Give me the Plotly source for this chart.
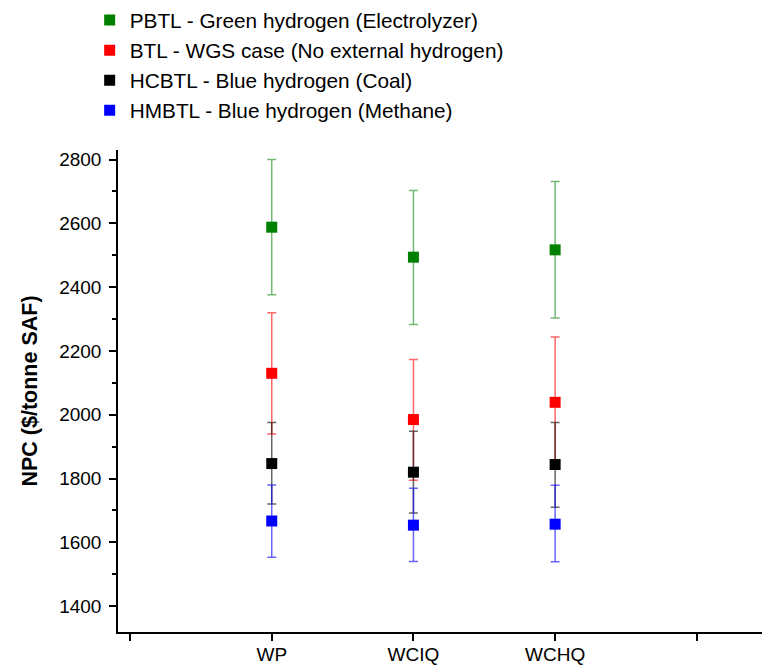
import plotly.graph_objects as go

categories = ["WP", "WCIQ", "WCHQ"]
x_pos = [1, 2, 3]
tick_positions = [0, 1, 2, 3, 4]
tick_labels = ["", "WP", "WCIQ", "WCHQ", ""]

series_names = [
    "PBTL - Green hydrogen (Electrolyzer)",
    "BTL - WGS case (No external hydrogen)",
    "HCBTL - Blue hydrogen (Coal)",
    "HMBTL - Blue hydrogen (Methane)",
]
pbtl = [2588, 2494, 2517]
pbtl_hi = [2800, 2703, 2731]
pbtl_lo = [2376, 2283, 2303]

btl = [2130, 1985, 2039]
btl_hi = [2320, 2173, 2244]
btl_lo = [1940, 1795, 1834]

hcbtl = [1847, 1820, 1844]
hcbtl_hi = [1976, 1948, 1976]
hcbtl_lo = [1720, 1692, 1710]

hmbtl = [1667, 1654, 1657]
hmbtl_hi = [1780, 1770, 1779]
hmbtl_lo = [1553, 1540, 1539]

colors = ["#008000", "#FF0000", "#000000", "#0000FF"]
err_colors = ["rgba(0,128,0,0.55)", "rgba(255,0,0,0.6)", "rgba(0,0,0,0.6)", "rgba(0,0,255,0.6)"]

fig = go.Figure()
for name, vals, hi, lo, c, ec in zip(
    series_names,
    [pbtl, btl, hcbtl, hmbtl],
    [pbtl_hi, btl_hi, hcbtl_hi, hmbtl_hi],
    [pbtl_lo, btl_lo, hcbtl_lo, hmbtl_lo],
    colors, err_colors,
):
    fig.add_trace(go.Scatter(
        x=x_pos, y=vals, mode="markers", name=name,
        marker=dict(symbol="square", size=11, color=c),
        error_y=dict(
            type="data", symmetric=False,
            array=[h - v for h, v in zip(hi, vals)],
            arrayminus=[v - l for v, l in zip(vals, lo)],
            color=ec, thickness=1.5, width=4.5,
        ),
    ))

fig.update_layout(
    width=762, height=668,
    margin=dict(l=118, r=0, t=148, b=36),
    plot_bgcolor="white", paper_bgcolor="white",
    font=dict(family="Liberation Sans, Arial, sans-serif", size=19, color="black"),
    showlegend=True,
    legend=dict(
        x=-0.044, y=1.311, xanchor="left", yanchor="top",
        font=dict(size=20.8, color="black"),
        bgcolor="rgba(0,0,0,0)", tracegroupgap=0,
    ),
    xaxis=dict(
        range=[-0.085, 4.46],
        tickmode="array", tickvals=tick_positions, ticktext=tick_labels,
        ticks="outside", ticklen=7, tickwidth=1.5, tickcolor="black",
        showline=True, linecolor="black", linewidth=1.5,
        showgrid=False, zeroline=False,
        tickfont=dict(size=19),
        ticklabelstandoff=-3,
    ),
    yaxis=dict(
        range=[1319, 2830],
        dtick=200, tick0=1400,
        ticks="outside", ticklen=7, tickwidth=1.5, tickcolor="black",
        minor=dict(dtick=100, ticks="outside", ticklen=4, tickwidth=1.5, tickcolor="black"),
        showline=True, linecolor="black", linewidth=1.5,
        showgrid=False, zeroline=False,
        tickfont=dict(size=19),
        ticklabelstandoff=4,
        title=dict(text="<b>NPC ($/tonne SAF)</b>", font=dict(size=21.5), standoff=16),
    ),
)

fig.write_html("out.html")
